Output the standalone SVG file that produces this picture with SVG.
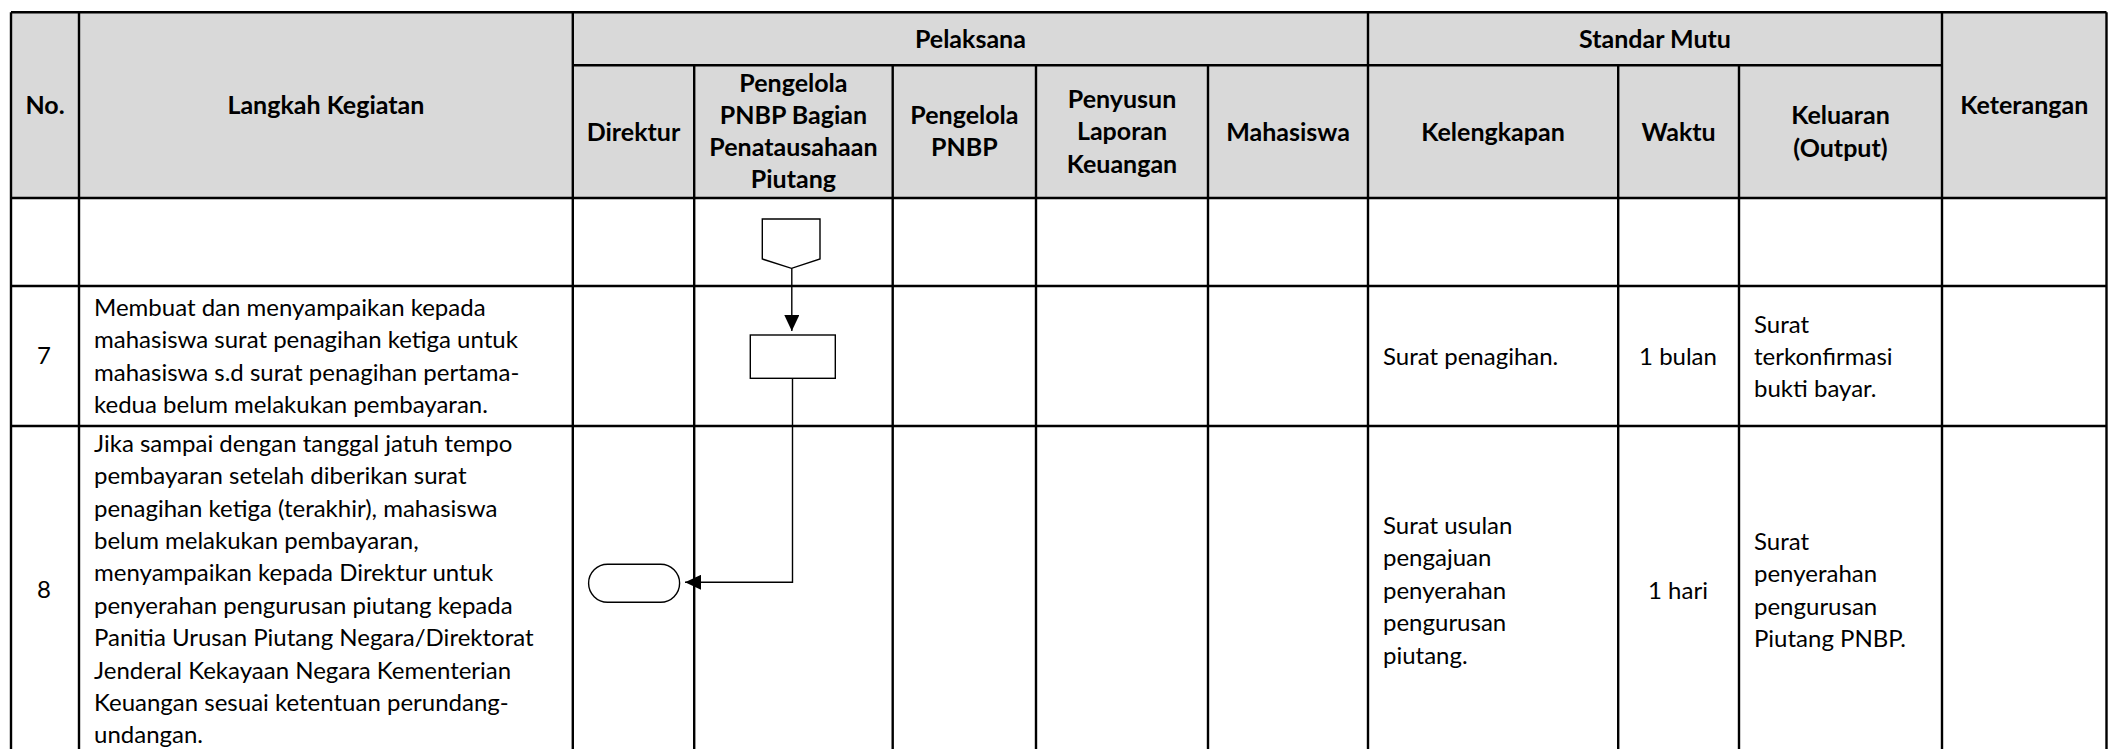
<svg xmlns="http://www.w3.org/2000/svg" width="2108" height="749" viewBox="0 0 2108 749">
<style>
.grid{stroke:#000;stroke-width:2.4;fill:none}
.hd{font-family:Lato,"Open Sans",sans-serif;font-weight:bold;font-size:25px;fill:#000;text-anchor:middle}
.tx{font-family:Lato,"Open Sans",sans-serif;font-size:24px;fill:#000}
.c{text-anchor:middle}
.shape{fill:#fff;stroke:#000;stroke-width:1.4}
.conn{fill:none;stroke:#000;stroke-width:1.4}
</style>
<defs>
<marker id="arr" viewBox="0 0 16 15" refX="16" refY="7.5" markerWidth="16" markerHeight="15" markerUnits="userSpaceOnUse" orient="auto">
<path d="M0,0 L16,7.5 L0,15 z" fill="#000"/>
</marker>
</defs>
<rect x="0" y="0" width="2108" height="749" fill="#fff"/>
<g id="table">
<rect x="11" y="12.3" width="2095.5" height="185.7" fill="#d9d9d9"/>
<path class="grid" d="M11,12.3 H2106.5 M572.8,65.3 H1942 M11,198 H2106.5 M11,286 H2106.5 M11,426 H2106.5"/>
<path class="grid" d="M11,12.3 V749 M79,12.3 V749 M572.8,12.3 V749 M694.2,65.3 V749 M892.7,65.3 V749 M1036,65.3 V749 M1208,65.3 V749 M1368,12.3 V749 M1618.2,65.3 V749 M1739,65.3 V749 M1942,12.3 V749 M2106.5,12.3 V749"/>
</g>
<g id="header">
<text class="hd" x="45" y="114">No.</text>
<text class="hd" x="325.9" y="114">Langkah Kegiatan</text>
<text class="hd" x="970.4" y="48">Pelaksana</text>
<text class="hd" x="1655" y="48">Standar Mutu</text>
<text class="hd" x="2024.3" y="114">Keterangan</text>
<text class="hd" x="633.5" y="140.5">Direktur</text>
<text class="hd" x="793.4"><tspan x="793.4" y="91.5">Pengelola</tspan><tspan x="793.4" y="123.8">PNBP Bagian</tspan><tspan x="793.4" y="156">Penatausahaan</tspan><tspan x="793.4" y="188.3">Piutang</tspan></text>
<text class="hd" x="964.4"><tspan x="964.4" y="123.8">Pengelola</tspan><tspan x="964.4" y="156">PNBP</tspan></text>
<text class="hd" x="1122"><tspan x="1122" y="107.5">Penyusun</tspan><tspan x="1122" y="140">Laporan</tspan><tspan x="1122" y="172.5">Keuangan</tspan></text>
<text class="hd" x="1288" y="140.5">Mahasiswa</text>
<text class="hd" x="1493" y="140.5">Kelengkapan</text>
<text class="hd" x="1678.6" y="140.5">Waktu</text>
<text class="hd" x="1840.5"><tspan x="1840.5" y="124">Keluaran</tspan><tspan x="1840.5" y="156.5">(Output)</tspan></text>
</g>
<g id="row7">
<text class="tx c" x="44" y="364">7</text>
<text class="tx" x="94"><tspan x="94" y="316">Membuat dan menyampaikan kepada</tspan><tspan x="94" y="348.4">mahasiswa surat penagihan ketiga untuk</tspan><tspan x="94" y="380.8">mahasiswa s.d surat penagihan pertama-</tspan><tspan x="94" y="413.2">kedua belum melakukan pembayaran.</tspan></text>
<text class="tx" x="1383" y="364.5">Surat penagihan.</text>
<text class="tx c" x="1678" y="364.5">1 bulan</text>
<text class="tx" x="1754"><tspan x="1754" y="333">Surat</tspan><tspan x="1754" y="365.2">terkonfirmasi</tspan><tspan x="1754" y="397.4">bukti bayar.</tspan></text>
</g>
<g id="row8">
<text class="tx c" x="44" y="598">8</text>
<text class="tx" x="94"><tspan x="94" y="451.7">Jika sampai dengan tanggal jatuh tempo</tspan><tspan x="94" y="484.1">pembayaran setelah diberikan surat</tspan><tspan x="94" y="516.5">penagihan ketiga (terakhir), mahasiswa</tspan><tspan x="94" y="548.9">belum melakukan pembayaran,</tspan><tspan x="94" y="581.3">menyampaikan kepada Direktur untuk</tspan><tspan x="94" y="613.7">penyerahan pengurusan piutang kepada</tspan><tspan x="94" y="646.1">Panitia Urusan Piutang Negara/Direktorat</tspan><tspan x="94" y="678.5">Jenderal Kekayaan Negara Kementerian</tspan><tspan x="94" y="710.9">Keuangan sesuai ketentuan perundang-</tspan><tspan x="94" y="743.3">undangan.</tspan></text>
<text class="tx" x="1383"><tspan x="1383" y="534">Surat usulan</tspan><tspan x="1383" y="566.4">pengajuan</tspan><tspan x="1383" y="598.8">penyerahan</tspan><tspan x="1383" y="631.2">pengurusan</tspan><tspan x="1383" y="663.6">piutang.</tspan></text>
<text class="tx c" x="1678" y="599">1 hari</text>
<text class="tx" x="1754"><tspan x="1754" y="550">Surat</tspan><tspan x="1754" y="582.3">penyerahan</tspan><tspan x="1754" y="614.6">pengurusan</tspan><tspan x="1754" y="646.9">Piutang PNBP.</tspan></text>
</g>
<g id="node-offpage">
<path class="shape" d="M762.3,219 H820 V259 L791.5,268.3 L762.3,259 Z"/>
</g>
<g id="node-process">
<rect class="shape" x="750.3" y="335" width="85" height="43.3"/>
</g>
<g id="node-terminator">
<rect class="shape" x="588.6" y="564.3" width="91" height="38" rx="19" ry="19"/>
</g>
<g id="connectors">
<path class="conn" d="M791.8,268.3 V331" marker-end="url(#arr)"/>
<path class="conn" d="M792.5,378.3 V582.3 H685" marker-end="url(#arr)"/>
</g>
</svg>
